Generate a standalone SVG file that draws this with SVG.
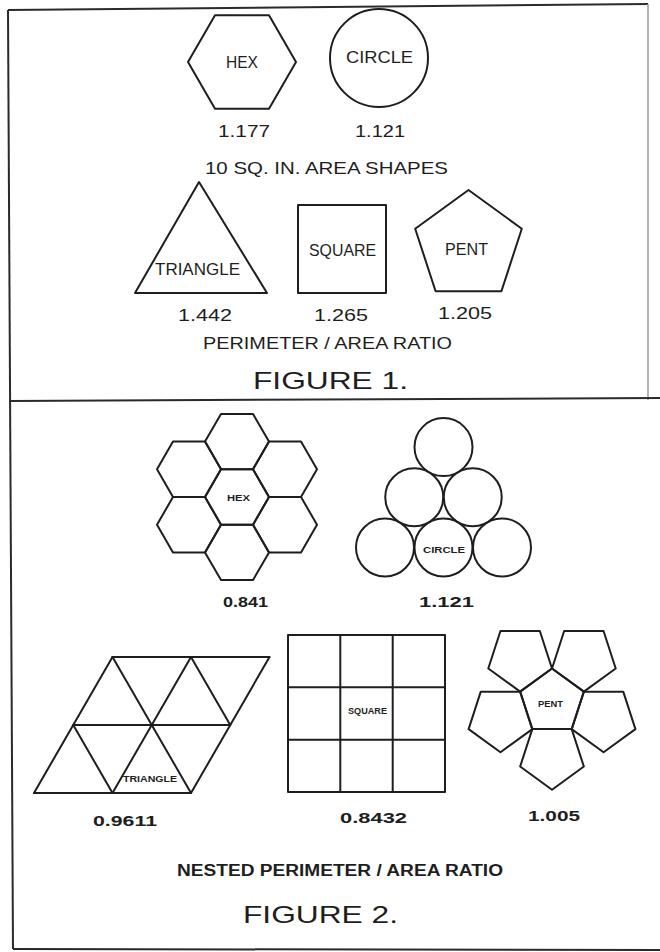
<svg xmlns="http://www.w3.org/2000/svg" xmlns:xlink="http://www.w3.org/1999/xlink" width="660" height="952" viewBox="0 0 660 952">
<style>
  .sh { fill: none; stroke: #1e1e1e; stroke-width: 2; stroke-linejoin: round; stroke-linecap: round; }
  .fr { fill: none; stroke: #2a2a2a; stroke-width: 2; }
  .frl { fill: none; stroke: #9a9a9a; stroke-width: 1.5; }
  text { font-family: "Liberation Sans", Arial, sans-serif; fill: #1e1e1e; text-anchor: middle; }
  .lb { font-size: 16.5px; }
  .nm { font-size: 16.5px; }
  .cap { font-size: 16.5px; }
  .fig { font-size: 24px; }
  .sm { font-size: 9.5px; font-weight: bold; }
  .nm2 { font-size: 14px; font-weight: bold; }
  .cap2 { font-size: 16px; font-weight: bold; }
</style>
<defs>
  <polygon id="hx" points="-32,0 -16,-27.7 16,-27.7 32,0 16,27.7 -16,27.7"/>
  <polygon id="p5" points="552,668.5 583.86,691.65 571.69,729.1 532.31,729.1 520.14,691.65"/>
</defs>
<rect width="660" height="952" fill="#ffffff"/>

<g id="frame">
  <line class="fr" x1="8" y1="10" x2="648" y2="4"/>
  <line class="fr" x1="8" y1="10" x2="13" y2="949"/>
  <line class="frl" x1="648" y1="4" x2="648" y2="400"/>
  <line class="fr" x1="9" y1="401" x2="660" y2="398"/>
  <line class="fr" x1="13" y1="949" x2="660" y2="950"/>
</g>

<g id="fig1">
  <g id="hex1">
    <polygon class="sh" points="188,62 215,15.2 269,15.2 296,62 269,108.8 215,108.8"/>
    <text class="lb" x="242" y="68" textLength="32" lengthAdjust="spacingAndGlyphs">HEX</text>
    <text class="nm" x="244" y="137" textLength="52" lengthAdjust="spacingAndGlyphs">1.177</text>
  </g>
  <g id="circle1">
    <circle class="sh" cx="379" cy="58" r="49"/>
    <text class="lb" x="379.5" y="63" textLength="67" lengthAdjust="spacingAndGlyphs">CIRCLE</text>
    <text class="nm" x="380" y="137" textLength="50" lengthAdjust="spacingAndGlyphs">1.121</text>
  </g>
  <text class="cap" x="326.5" y="174" textLength="243" lengthAdjust="spacingAndGlyphs">10 SQ. IN. AREA SHAPES</text>
  <g id="tri1">
    <polygon class="sh" points="199,182 267,293 135,293"/>
    <text class="lb" x="197.5" y="275" textLength="85" lengthAdjust="spacingAndGlyphs">TRIANGLE</text>
    <text class="nm" x="205" y="321" textLength="54" lengthAdjust="spacingAndGlyphs">1.442</text>
  </g>
  <g id="square1">
    <rect class="sh" x="298" y="205" width="88" height="88"/>
    <text class="lb" x="342.5" y="256" textLength="67" lengthAdjust="spacingAndGlyphs">SQUARE</text>
    <text class="nm" x="341" y="321" textLength="54" lengthAdjust="spacingAndGlyphs">1.265</text>
  </g>
  <g id="pent1">
    <polygon class="sh" points="468.5,190 521.8,228.7 501.4,291.3 435.6,291.3 415.2,228.7"/>
    <text class="lb" x="466.5" y="255" textLength="43" lengthAdjust="spacingAndGlyphs">PENT</text>
    <text class="nm" x="465" y="319" textLength="54" lengthAdjust="spacingAndGlyphs">1.205</text>
  </g>
  <text class="cap" x="327.5" y="349" textLength="249" lengthAdjust="spacingAndGlyphs">PERIMETER / AREA RATIO</text>
  <text class="fig" x="330.5" y="388.5" textLength="155" lengthAdjust="spacingAndGlyphs">FIGURE 1.</text>
</g>

<g id="fig2">
  <g id="hexnest">
    <use xlink:href="#hx" href="#hx" class="sh" x="237" y="497"/>
    <use xlink:href="#hx" href="#hx" class="sh" x="237" y="441.6"/>
    <use xlink:href="#hx" href="#hx" class="sh" x="237" y="552.4"/>
    <use xlink:href="#hx" href="#hx" class="sh" x="189" y="469.3"/>
    <use xlink:href="#hx" href="#hx" class="sh" x="189" y="524.7"/>
    <use xlink:href="#hx" href="#hx" class="sh" x="285" y="469.3"/>
    <use xlink:href="#hx" href="#hx" class="sh" x="285" y="524.7"/>
    <text class="sm" x="238.5" y="500.5" textLength="23" lengthAdjust="spacingAndGlyphs">HEX</text>
    <text class="nm2" x="245.5" y="607" textLength="45" lengthAdjust="spacingAndGlyphs">0.841</text>
  </g>
  <g id="circlenest">
    <circle class="sh" cx="385" cy="547.5" r="29"/>
    <circle class="sh" cx="443.5" cy="547.5" r="29"/>
    <circle class="sh" cx="502" cy="547.5" r="29"/>
    <circle class="sh" cx="414.25" cy="497.3" r="29"/>
    <circle class="sh" cx="472.75" cy="497.3" r="29"/>
    <circle class="sh" cx="443.5" cy="447.1" r="29"/>
    <text class="sm" x="444" y="552.5" textLength="42" lengthAdjust="spacingAndGlyphs">CIRCLE</text>
    <text class="nm2" x="446.5" y="607" textLength="55" lengthAdjust="spacingAndGlyphs">1.121</text>
  </g>
  <g id="trinest">
    <polyline class="sh" points="112.5,657 269.5,657"/>
    <polyline class="sh" points="73.25,725 230.25,725"/>
    <polyline class="sh" points="34,793 191,793"/>
    <polyline class="sh" points="34,793 112.5,657"/>
    <polyline class="sh" points="112.5,793 191,657"/>
    <polyline class="sh" points="191,793 269.5,657"/>
    <polyline class="sh" points="112.5,657 191,793"/>
    <polyline class="sh" points="191,657 230.25,725"/>
    <polyline class="sh" points="73.25,725 112.5,793"/>
    <text class="sm" x="150" y="781.5" textLength="54" lengthAdjust="spacingAndGlyphs">TRIANGLE</text>
    <text class="nm2" x="125" y="826" textLength="64" lengthAdjust="spacingAndGlyphs">0.9611</text>
  </g>
  <g id="squarenest">
    <rect class="sh" x="288" y="635" width="157" height="157"/>
    <line class="sh" x1="340.3" y1="635" x2="340.3" y2="792"/>
    <line class="sh" x1="392.7" y1="635" x2="392.7" y2="792"/>
    <line class="sh" x1="288" y1="687.3" x2="445" y2="687.3"/>
    <line class="sh" x1="288" y1="739.7" x2="445" y2="739.7"/>
    <text class="sm" x="367.5" y="713.5" textLength="39" lengthAdjust="spacingAndGlyphs">SQUARE</text>
    <text class="nm2" x="373.5" y="823" textLength="67" lengthAdjust="spacingAndGlyphs">0.8432</text>
  </g>
  <g id="pentnest">
    <use xlink:href="#p5" href="#p5" class="sh"/>
    <use xlink:href="#p5" href="#p5" class="sh" transform="rotate(180 567.93 680.08)"/>
    <use xlink:href="#p5" href="#p5" class="sh" transform="rotate(180 577.78 710.38)"/>
    <use xlink:href="#p5" href="#p5" class="sh" transform="rotate(180 552 729.1)"/>
    <use xlink:href="#p5" href="#p5" class="sh" transform="rotate(180 526.23 710.38)"/>
    <use xlink:href="#p5" href="#p5" class="sh" transform="rotate(180 536.07 680.08)"/>
    <text class="sm" x="550.5" y="706.5" textLength="25" lengthAdjust="spacingAndGlyphs">PENT</text>
    <text class="nm2" x="554" y="821" textLength="52" lengthAdjust="spacingAndGlyphs">1.005</text>
  </g>
  <text class="cap2" x="340" y="876" textLength="326" lengthAdjust="spacingAndGlyphs">NESTED PERIMETER / AREA RATIO</text>
  <text class="fig" x="320.5" y="922.5" textLength="155" lengthAdjust="spacingAndGlyphs">FIGURE 2.</text>
</g>
</svg>
